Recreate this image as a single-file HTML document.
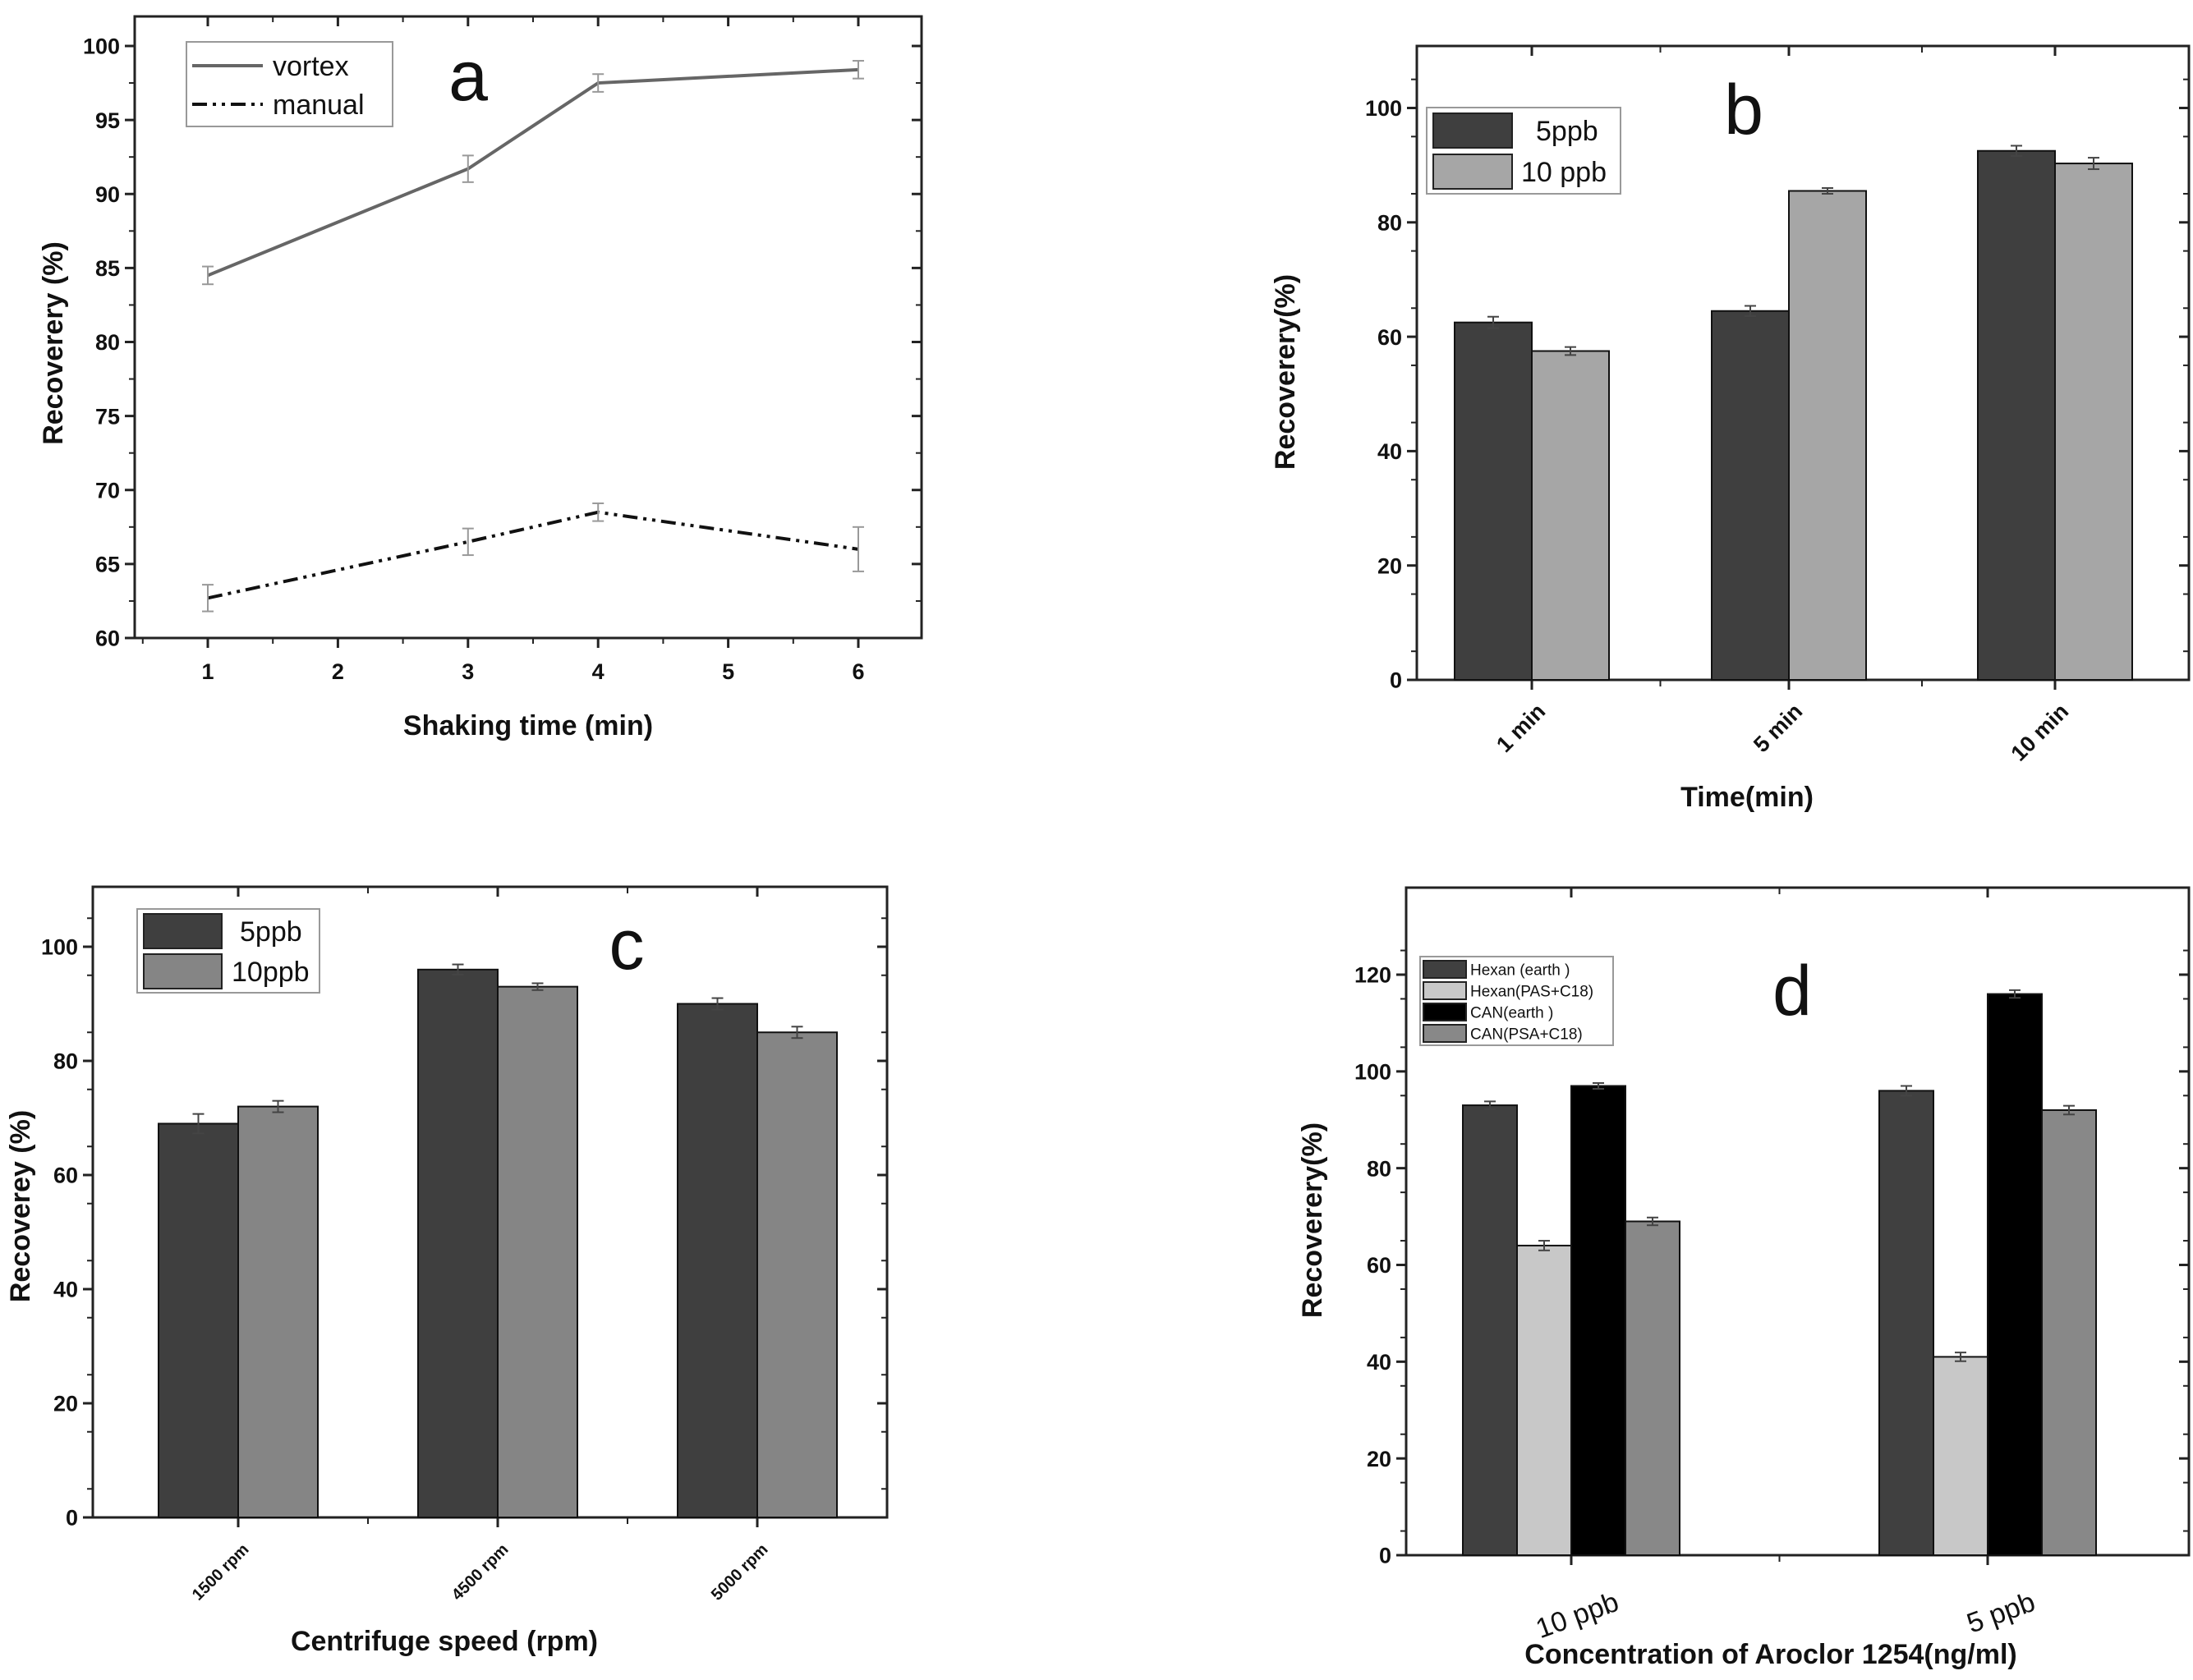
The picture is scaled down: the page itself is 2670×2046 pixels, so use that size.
<!DOCTYPE html>
<html><head><meta charset="utf-8"><style>
body{margin:0;background:#fff}
svg{display:block;font-family:"Liberation Sans",sans-serif}
</style></head><body>
<svg id="fig" width="2670" height="2046" viewBox="0 0 2670 2046"></svg>
<script>
// Panel a data
const aX=[1,3,4,6];
const aVortex=[84.5,91.7,97.5,98.4];
const aVortexErr=[0.6,0.9,0.6,0.6];
const aManual=[62.7,66.5,68.5,66.0];
const aManualErr=[0.9,0.9,0.6,1.5];
const aXTicks=[1,2,3,4,5,6];
const aYTicks=[60,65,70,75,80,85,90,95,100];
// Panel b data
const bCats=["1 min","5 min","10 min"];
const b5=[62.5,64.5,92.5];
const b5Err=[1.0,0.9,0.9];
const b10=[57.5,85.5,90.3];
const b10Err=[0.7,0.5,1.0];
const bYTicks=[0,20,40,60,80,100];
// Panel c data
const cCats=["1500 rpm","4500 rpm","5000 rpm"];
const c5=[69,96,90];
const c5Err=[1.7,0.9,1.0];
const c10=[72,93,85];
const c10Err=[1.0,0.6,1.0];
const cYTicks=[0,20,40,60,80,100];
// Panel d data
const dCats=["10 ppb","5 ppb"];
const dHexEarth=[93,96];
const dHexPas=[64,41];
const dCanEarth=[97,116];
const dCanPsa=[69,92];
const dErr1=[0.8,1.0];
const dErr2=[1.0,0.9];
const dErr3=[0.6,0.8];
const dErr4=[0.8,0.9];
const dYTicks=[0,20,40,60,80,100,120];

const svg=document.getElementById('fig');
const NS="http://www.w3.org/2000/svg";
function mk(tag,attrs,parent,text){const e=document.createElementNS(NS,tag);for(const k in attrs)e.setAttribute(k,attrs[k]);if(text!==undefined)e.textContent=text;(parent||svg).appendChild(e);return e;}

function frame(g,L,R,T,B){
  const r=mk('rect',{x:L,y:T,width:R-L,height:B-T,fill:'none',stroke:'#222','stroke-width':3},g);
  
  
}
function yAxis(g,ticks,minor,ys,L,R,fs){
  ticks.forEach(v=>{
    const y=ys(v);
    mk('line',{x1:L-12,x2:L,y1:y,y2:y,stroke:'#222','stroke-width':3},g);
    mk('line',{x1:R,x2:R-12,y1:y,y2:y,stroke:'#222','stroke-width':3},g);
    const t=mk('text',{x:L-18,y:y+fs*0.36,'text-anchor':'end','font-size':fs,'font-weight':'bold',fill:'#111'},g,String(v));
    
    
  });
  minor.forEach(v=>{const y=ys(v);
    mk('line',{x1:L-7,x2:L,y1:y,y2:y,stroke:'#222','stroke-width':2},g);
    mk('line',{x1:R,x2:R-7,y1:y,y2:y,stroke:'#222','stroke-width':2},g);});
}
function title(g,x,y,txt,fs,rot,name){
  const t=mk('text',{x:x,y:y,'text-anchor':'middle','font-size':fs,'font-weight':'bold',fill:'#111',transform:rot?`rotate(-90 ${x} ${y})`:''},g,txt);
  
  
}
function errbar(g,x,y1,y2,w,col){
  mk('line',{x1:x,x2:x,y1:y1,y2:y2,stroke:col,'stroke-width':2},g);
  mk('line',{x1:x-w,x2:x+w,y1:y1,y2:y1,stroke:col,'stroke-width':2},g);
  mk('line',{x1:x-w,x2:x+w,y1:y2,y2:y2,stroke:col,'stroke-width':2},g);
}
function bar(g,x,w,ys,v,e,fill,name){
  const r=mk('rect',{x:x,y:ys(v),width:w,height:ys(0)-ys(v),fill:fill,stroke:'#111','stroke-width':2},g);
  
  
  errbar(g,x+w/2,ys(v+e),ys(v-e),7,'#444');
}
function legendBox(g,x,y,w,h,name){
  const r=mk('rect',{x:x,y:y,width:w,height:h,fill:'#fff',stroke:'#999','stroke-width':2},g);
  
  
}
function legendEntry(g,x,y,w,h,fill,label,fs,tx){
  const s=mk('rect',{x:x,y:y,width:w,height:h,fill:fill,stroke:'#222','stroke-width':2},g);
  
  
  const t=mk('text',{x:tx,y:y+h/2+fs*0.36,'font-size':fs,fill:'#111'},g,label);
  
  
}
function letter(g,x,y,ch){
  const t=mk('text',{x:x,y:y,'text-anchor':'middle','font-size':86,fill:'#111'},g,ch);
  
  
}

// ---------- Panel a ----------
(function(){
  const g=mk('g',{});
  const L=164,R=1122,T=20,B=777;
  const ys=v=>B-(v-60)/(100-60)*(B-56);
  const xs=v=>253+(v-1)/5*(1045-253);
  frame(g,L,R,T,B);
  const minor=[];for(let v=62.5;v<100;v+=5)minor.push(v);
  yAxis(g,aYTicks,minor,ys,L,R,27);
  aXTicks.forEach(v=>{const x=xs(v);
    mk('line',{x1:x,x2:x,y1:B,y2:B+12,stroke:'#222','stroke-width':3},g);
    mk('line',{x1:x,x2:x,y1:T,y2:T+12,stroke:'#222','stroke-width':3},g);
    const t=mk('text',{x:x,y:B+50,'text-anchor':'middle','font-size':27,'font-weight':'bold',fill:'#111'},g,String(v));
    
    const xm=xs(v+0.5);if(v<6){mk('line',{x1:xm,x2:xm,y1:B,y2:B+7,stroke:'#222','stroke-width':2},g);mk('line',{x1:xm,x2:xm,y1:T,y2:T+7,stroke:'#222','stroke-width':2},g);}
  });
  mk('line',{x1:xs(0.5),x2:xs(0.5),y1:B,y2:B+7,stroke:'#222','stroke-width':2},g);
  title(g,643,895,'Shaking time (min)',34,false,'x-axis-title');
  title(g,76,418,'Recoverery (%)',34,true,'y-axis-title');
  const pv=aX.map((x,i)=>xs(x)+','+ys(aVortex[i])).join(' ');
  const l1=mk('polyline',{points:pv,fill:'none',stroke:'#666','stroke-width':4},g);
  
  const pm=aX.map((x,i)=>xs(x)+','+ys(aManual[i])).join(' ');
  const l2=mk('polyline',{points:pm,fill:'none',stroke:'#111','stroke-width':4,'stroke-dasharray':'18 7 4 7 4 7'},g);
  
  aX.forEach((x,i)=>{errbar(g,xs(x),ys(aVortex[i]+aVortexErr[i]),ys(aVortex[i]-aVortexErr[i]),7,'#999');
    errbar(g,xs(x),ys(aManual[i]+aManualErr[i]),ys(aManual[i]-aManualErr[i]),7,'#999');});
  legendBox(g,227,51,251,103,'legend');
  mk('line',{x1:234,x2:320,y1:80,y2:80,stroke:'#666','stroke-width':4},g);
  mk('line',{x1:234,x2:320,y1:127,y2:127,stroke:'#111','stroke-width':4,'stroke-dasharray':'18 7 4 7 4 7'},g);
  let t=mk('text',{x:332,y:92,'font-size':34,fill:'#111'},g,'vortex');
  t=mk('text',{x:332,y:139,'font-size':34,fill:'#111'},g,'manual');
  letter(g,570,122,'a');
})();

// ---------- grouped bar helper ----------
function barPanel(opts){
  const g=mk('g',{});
  const {L,R,T,B,y0,yTop,vTop,max}=opts;
  const ys=v=>y0-v/vTop*(y0-yTop);
  frame(g,L,R,T,B);
  const minor=[];for(let v=opts.step/2;v<max;v+=opts.step)minor.push(v);
  yAxis(g,opts.yTicks,minor,ys,L,R,27);
  const n=opts.cats.length;
  opts.centers.forEach((cx,i)=>{
    mk('line',{x1:cx,x2:cx,y1:B,y2:B+12,stroke:'#222','stroke-width':3},g);
    mk('line',{x1:cx,x2:cx,y1:T,y2:T+12,stroke:'#222','stroke-width':3},g);
    if(i<n-1){const m=(cx+opts.centers[i+1])/2;mk('line',{x1:m,x2:m,y1:B,y2:B+8,stroke:'#222','stroke-width':2},g);mk('line',{x1:m,x2:m,y1:T,y2:T+8,stroke:'#222','stroke-width':2},g);}
    const ly=B+opts.labDy,lx=cx+opts.labDx;
    const t=mk('text',{x:lx,y:ly,'text-anchor':'end','font-size':opts.labFs,'font-weight':opts.labBold?'bold':'normal',fill:'#111',transform:`rotate(${opts.labRot} ${lx} ${ly})`},g,opts.cats[i]);
    
  });
  opts.series.forEach((s,si)=>{
    opts.centers.forEach((cx,i)=>{
      const x=cx-opts.series.length*opts.bw/2+si*opts.bw;
      bar(g,x,opts.bw,ys,s.vals[i],s.err[i],s.fill,s.barName);
    });
  });
  return g;
}

// ---------- Panel b ----------
(function(){
  const g=barPanel({name:'panel-b',L:1725,R:2665,T:56,B:828,y0:828,yTop:131.5,vTop:100,max:110,step:10,yTicks:bYTicks,
    cats:bCats,centers:[1865,2178,2502],bw:94,labDy:40,labDx:18,labRot:-45,labFs:27,labBold:true,
    series:[{vals:b5,err:b5Err,fill:'#3f3f3f',barName:'bar-5ppb'},{vals:b10,err:b10Err,fill:'#a6a6a6',barName:'bar-10ppb'}]});
  title(g,2127,982,'Time(min)',34,false,'x-axis-title');
  title(g,1576,453,'Recoverery(%)',34,true,'y-axis-title');
  legendBox(g,1737,131,236,105,'legend');
  legendEntry(g,1745,138,96,42,'#3f3f3f','5ppb',34,1870);
  legendEntry(g,1745,188,96,42,'#a6a6a6','10 ppb',34,1852);
  letter(g,2123,163,'b');
})();

// ---------- Panel c ----------
(function(){
  const g=barPanel({name:'panel-c',L:113,R:1080,T:1080,B:1848,y0:1848,yTop:1153,vTop:100,max:110,step:10,yTicks:cYTicks,
    cats:cCats,centers:[290,606,922],bw:97,labDy:40,labDx:14,labRot:-45,labFs:20,labBold:true,
    series:[{vals:c5,err:c5Err,fill:'#3f3f3f',barName:'bar-5ppb'},{vals:c10,err:c10Err,fill:'#858585',barName:'bar-10ppb'}]});
  title(g,541,2010,'Centrifuge speed (rpm)',34,false,'x-axis-title');
  title(g,36,1469,'Recoverey (%)',34,true,'y-axis-title');
  legendBox(g,167,1107,222,102,'legend');
  legendEntry(g,175,1113,95,42,'#3f3f3f','5ppb',34,292);
  legendEntry(g,175,1162,95,42,'#858585','10ppb',34,282);
  letter(g,763,1180,'c');
})();

// ---------- Panel d ----------
(function(){
  const g=barPanel({name:'panel-d',L:1712,R:2665,T:1081,B:1894,y0:1894,yTop:1187,vTop:120,max:130,step:10,yTicks:dYTicks,
    cats:dCats,centers:[1913,2420],bw:66,labDy:66,labDx:60,labRot:-20,labFs:34,labBold:false,
    series:[{vals:dHexEarth,err:dErr1,fill:'#404040',barName:'bar-hexan-earth'},{vals:dHexPas,err:dErr2,fill:'#c8c8c8',barName:'bar-hexan-pas-c18'},
      {vals:dCanEarth,err:dErr3,fill:'#000000',barName:'bar-can-earth'},{vals:dCanPsa,err:dErr4,fill:'#888888',barName:'bar-can-psa-c18'}]});
  title(g,2156,2026,'Concentration of Aroclor 1254(ng/ml)',34,false,'x-axis-title');
  title(g,1609,1486,'Recoverery(%)',34,true,'y-axis-title');
  legendBox(g,1729,1165,235,108,'legend');
  legendEntry(g,1733,1170,52,21,'#404040','Hexan (earth )',19,1790);
  legendEntry(g,1733,1196,52,21,'#c8c8c8','Hexan(PAS+C18)',19,1790);
  legendEntry(g,1733,1222,52,21,'#000000','CAN(earth )',19,1790);
  legendEntry(g,1733,1248,52,21,'#888888','CAN(PSA+C18)',19,1790);
  letter(g,2182,1236,'d');
})();
</script>
</body></html>
